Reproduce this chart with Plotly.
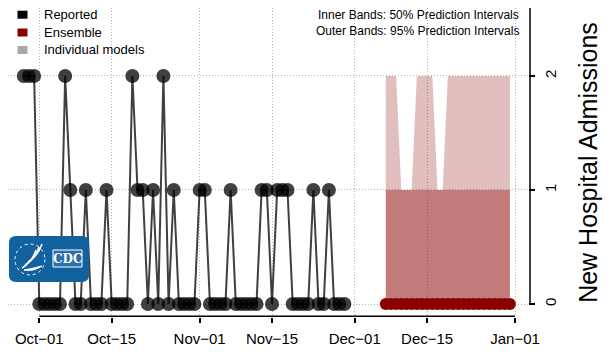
import plotly.graph_objects as go
import pandas as pd

# reported daily admissions
rep_start = "2023-09-28"
reported = [2, 2, 2, 0, 0, 0, 0, 0, 2, 1, 0, 0, 1, 0, 0, 0, 1, 0, 0, 0, 0, 2, 1, 1, 0, 1,
            0, 2, 0, 1, 0, 0, 0, 0, 1, 1, 0, 0, 0, 0, 1, 0, 0, 0, 0, 0, 1, 1, 0, 1, 1, 1,
            0, 0, 0, 0, 1, 0, 0, 1, 0, 0, 0]
rep_dates = pd.date_range(rep_start, periods=len(reported), freq="D")

# ensemble forecast
fc_start = "2023-12-07"
ens_median = [0] * 25
ens_lo50 = [0] * 25
ens_hi50 = [1] * 25
ens_lo95 = [0] * 25
ens_hi95 = [2, 2, 2, 1, 1, 1, 2, 2, 2, 2, 1, 1, 2, 2, 2, 2, 2, 2, 2, 2, 2, 2, 2, 2, 2]
fc_dates = pd.date_range(fc_start, periods=len(ens_median), freq="D")

tick_dates = ["2023-10-01", "2023-10-15", "2023-11-01", "2023-11-15",
              "2023-12-01", "2023-12-15", "2024-01-01"]
tick_text = ["Oct\u221201", "Oct\u221215", "Nov\u221201", "Nov\u221215",
             "Dec\u221201", "Dec\u221215", "Jan\u221201"]

FONT = "Liberation Sans, Arial, sans-serif"
W, H = 616, 356
OFF = 8            # page body margin
L, T, R, B = 8, 8, 528, 317   # plot area on screen (px)
PW, PH = R - L, B - T
GRID = dict(showgrid=True, gridcolor="#b4b4b4", griddash="1px,2px", gridwidth=1)


def px(x):
    return (x - L) / PW


def py(y):
    return 1 - (y - T) / PH


fig = go.Figure()

# 95% band
fig.add_trace(go.Scatter(x=fc_dates, y=ens_lo95, mode="lines", line=dict(width=0),
                         showlegend=False, hoverinfo="skip"))
fig.add_trace(go.Scatter(x=fc_dates, y=ens_hi95, mode="lines", line=dict(width=0),
                         fill="tonexty", fillcolor="rgba(139,0,0,0.25)",
                         showlegend=False, hoverinfo="skip"))
# 50% band
fig.add_trace(go.Scatter(x=fc_dates, y=ens_lo50, mode="lines", line=dict(width=0),
                         showlegend=False, hoverinfo="skip"))
fig.add_trace(go.Scatter(x=fc_dates, y=ens_hi50, mode="lines", line=dict(width=0),
                         fill="tonexty", fillcolor="rgba(139,0,0,0.36)",
                         showlegend=False, hoverinfo="skip"))

# ensemble median
fig.add_trace(go.Scatter(x=fc_dates, y=ens_median, mode="lines+markers",
                         line=dict(color="#8b0000", width=2),
                         marker=dict(color="#8b0000", size=12),
                         showlegend=False))

# reported
fig.add_trace(go.Scatter(x=rep_dates, y=reported, mode="lines+markers",
                         line=dict(color="rgba(30,30,30,0.85)", width=2),
                         marker=dict(color="rgba(0,0,0,0.75)", size=14),
                         showlegend=False))

shapes = []
# x axis line (R style, only between first and last tick)
shapes.append(dict(type="line", xref="x", yref="paper", x0=tick_dates[0], x1=tick_dates[-1],
                   y0=py(316.3), y1=py(316.3), line=dict(color="black", width=1.6)))
# y axis line
shapes.append(dict(type="line", xref="paper", yref="paper", x0=px(530), x1=px(530),
                   y0=py(304.5), y1=1.05, line=dict(color="black", width=1.5)))

# legend boxes
for yc, col in [(14.7, "black"), (32.5, "#8b0000"), (50, "#a9a9a9")]:
    shapes.append(dict(type="rect", xref="paper", yref="paper",
                       x0=px(17.5), x1=px(27.5), y0=py(yc - 4), y1=py(yc + 4),
                       fillcolor=col, line=dict(width=0)))

# CDC logo
x0, x1, y0, y1, r = 9, 89, 236, 282, 7
path = (f"M {px(x0 + r)},{py(y0)} L {px(x1 - r)},{py(y0)} "
        f"Q {px(x1)},{py(y0)} {px(x1)},{py(y0 + r)} L {px(x1)},{py(y1 - r)} "
        f"Q {px(x1)},{py(y1)} {px(x1 - r)},{py(y1)} L {px(x0 + r)},{py(y1)} "
        f"Q {px(x0)},{py(y1)} {px(x0)},{py(y1 - r)} L {px(x0)},{py(y0 + r)} "
        f"Q {px(x0)},{py(y0)} {px(x0 + r)},{py(y0)} Z")
shapes.append(dict(type="path", xref="paper", yref="paper", path=path,
                   fillcolor="rgb(17,98,158)", line=dict(width=0), layer="above"))
shapes.append(dict(type="rect", xref="paper", yref="paper",
                   x0=px(53), x1=px(82), y0=py(250), y1=py(267),
                   fillcolor="rgb(40,112,170)", line=dict(color="white", width=1)))
shapes.append(dict(type="circle", xref="paper", yref="paper",
                   x0=px(15), x1=px(45), y0=py(244), y1=py(275),
                   line=dict(color="white", width=1, dash="dot")))
for dx in [0, 3, 6]:
    shapes.append(dict(type="path", xref="paper", yref="paper",
                       path=f"M {px(22 + dx)},{py(268 - dx)} Q {px(32 + dx)},{py(262 - dx)} {px(36 + dx)},{py(250 - dx)}",
                       line=dict(color="white", width=1.5)))
shapes.append(dict(type="path", xref="paper", yref="paper",
                   path=f"M {px(24)},{py(270)} Q {px(33)},{py(272)} {px(42)},{py(266)} L {px(34)},{py(268)} Z",
                   fillcolor="white", line=dict(color="white", width=1)))

annotations = []
for yc, txt in [(14.7, "Reported"), (32.5, "Ensemble"), (50, "Individual models")]:
    annotations.append(dict(x=px(41.5), y=py(yc), xref="paper", yref="paper", text=txt,
                            showarrow=False, xanchor="left", yanchor="middle",
                            font=dict(family=FONT, size=13, color="black")))
for yc, txt in [(15, "Inner Bands: 50% Prediction Intervals"),
                (31, "Outer Bands: 95% Prediction Intervals")]:
    annotations.append(dict(x=px(521), y=py(yc), xref="paper", yref="paper", text=txt,
                            showarrow=False, xanchor="right", yanchor="middle",
                            font=dict(family=FONT, size=12, color="black")))
annotations.append(dict(x=px(67.5), y=py(258.5), xref="paper", yref="paper", text="<b>CDC</b>",
                        showarrow=False, xanchor="center", yanchor="middle",
                        font=dict(family="DejaVu Serif, serif", size=12, color="white")))

fig.update_layout(
    width=W, height=H,
    margin=dict(l=L - OFF, r=W - (R - OFF), t=T - OFF, b=H - (B - OFF), autoexpand=False),
    plot_bgcolor="white", paper_bgcolor="white",
    font=dict(family=FONT, color="black"),
    showlegend=False,
    shapes=shapes,
    annotations=annotations,
    xaxis=dict(range=["2023-09-24 22:48", "2024-01-03 12:00"],
               tickvals=tick_dates, ticktext=tick_text,
               showline=False, zeroline=False,
               ticks="outside", ticklen=5, tickcolor="black", tickwidth=1.5,
               ticklabelstandoff=3,
               tickfont=dict(family=FONT, size=15), **GRID),
    yaxis=dict(range=[-0.114, 2.596], side="right",
               tickvals=[0, 1, 2], ticktext=["0", "1", "2"],
               showline=False, zeroline=False,
               ticks="outside", ticklen=6, tickcolor="black", tickwidth=1.5,
               ticklabelstandoff=3,
               tickangle=-90, tickfont=dict(family=FONT, size=15),
               title=dict(text="New Hospital Admissions", standoff=21,
                          font=dict(family=FONT, size=25)), **GRID),
)

fig.write_html("out.html")
